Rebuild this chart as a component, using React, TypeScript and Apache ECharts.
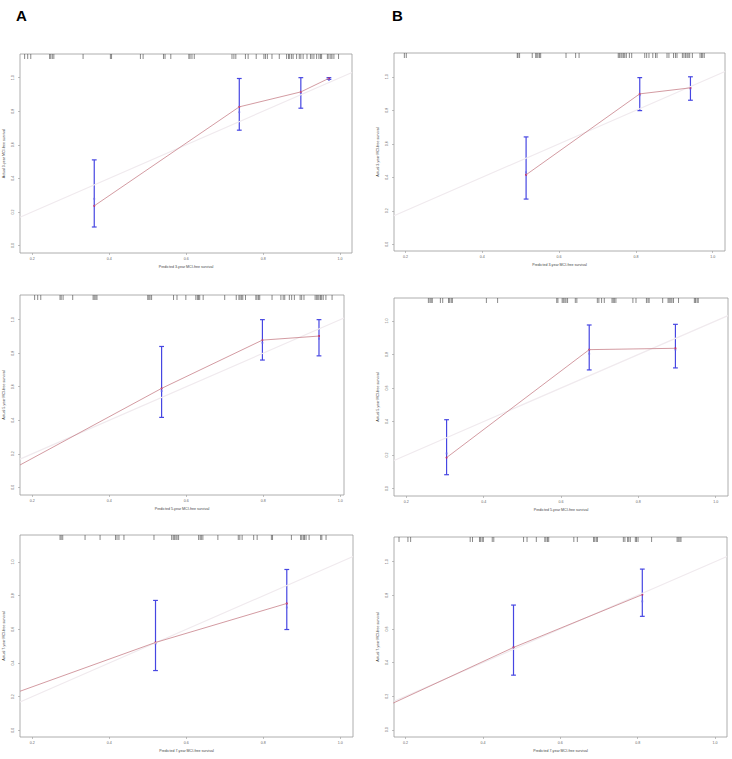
import React, { useEffect, useRef } from "react";
import * as echarts from "echarts";

// ---- tick labels ----
const xTicks = [0.2, 0.4, 0.6, 0.8, 1.0];
const yTicks = [0, 0.2, 0.4, 0.6, 0.8, 1.0];

// ---- Panel A, 3-year ----
const rugA1 = [0.180, 0.188, 0.196, 0.245, 0.248, 0.252, 0.256, 0.332, 0.403, 0.406, 0.481, 0.488, 0.541, 0.545, 0.560, 0.607, 0.610, 0.615, 0.621, 0.719, 0.724, 0.729, 0.754, 0.761, 0.782, 0.802, 0.806, 0.811, 0.823, 0.842, 0.861, 0.866, 0.869, 0.874, 0.878, 0.887, 0.894, 0.898, 0.904, 0.914, 0.923, 0.927, 0.932, 0.939, 0.945, 0.949, 0.952, 0.967, 0.971, 0.976, 0.979, 0.984, 0.996];
const predA1 = [0.361, 0.738, 0.898, 0.971];
const obsA1 = [0.236, 0.826, 0.915, 0.996];
const corrA1 = [0.278, 0.794, 0.905, 0.986];
const loA1 = [0.11, 0.687, 0.818, 0.99];
const hiA1 = [0.51, 0.995, 1.0, 1.0];

// ---- Panel B, 3-year ----
const rugB1 = [0.197, 0.202, 0.491, 0.493, 0.497, 0.530, 0.539, 0.542, 0.545, 0.549, 0.552, 0.618, 0.643, 0.652, 0.754, 0.757, 0.761, 0.764, 0.768, 0.771, 0.775, 0.783, 0.789, 0.823, 0.828, 0.834, 0.844, 0.851, 0.855, 0.881, 0.886, 0.898, 0.903, 0.907, 0.921, 0.925, 0.929, 0.933, 0.936, 0.940, 0.947, 0.967, 0.971, 0.974, 0.978];
const predB1 = [0.514, 0.810, 0.942];
const obsB1 = [0.415, 0.898, 0.934];
const corrB1 = [0.43, 0.89, 0.93];
const loB1 = [0.27, 0.798, 0.86];
const hiB1 = [0.641, 0.995, 1.0];

// ---- Panel A, 5-year ----
const rugA2 = [0.206, 0.214, 0.222, 0.272, 0.275, 0.280, 0.305, 0.358, 0.361, 0.365, 0.368, 0.500, 0.503, 0.506, 0.510, 0.567, 0.576, 0.599, 0.625, 0.629, 0.632, 0.635, 0.644, 0.700, 0.730, 0.737, 0.740, 0.744, 0.747, 0.754, 0.781, 0.784, 0.788, 0.791, 0.823, 0.846, 0.852, 0.856, 0.868, 0.874, 0.881, 0.896, 0.900, 0.906, 0.935, 0.939, 0.942, 0.945, 0.949, 0.952, 0.956, 0.963, 0.979];
const predA2 = [0.536, 0.798, 0.945];
const obsA2 = [0.59, 0.878, 0.902];
const corrA2 = [0.574, 0.862, 0.886];
const loA2 = [0.417, 0.759, 0.784];
const hiA2 = [0.84, 1.0, 1.0];
const startA2 = [0.168, 0.133];

// ---- Panel B, 5-year ----
const rugB2 = [0.257, 0.261, 0.264, 0.267, 0.288, 0.294, 0.309, 0.312, 0.316, 0.319, 0.407, 0.436, 0.589, 0.592, 0.603, 0.606, 0.610, 0.613, 0.617, 0.637, 0.641, 0.694, 0.698, 0.705, 0.712, 0.732, 0.735, 0.738, 0.742, 0.786, 0.794, 0.821, 0.825, 0.828, 0.863, 0.877, 0.880, 0.884, 0.887, 0.891, 0.904, 0.945, 0.948, 0.952, 0.955];
const predB2 = [0.304, 0.673, 0.896];
const obsB2 = [0.185, 0.829, 0.837];
const corrB2 = [0.21, 0.805, 0.829];
const loB2 = [0.083, 0.708, 0.72];
const hiB2 = [0.411, 0.976, 0.98];

// ---- Panel A, 7-year ----
const rugA3 = [0.272, 0.275, 0.279, 0.337, 0.376, 0.416, 0.420, 0.425, 0.438, 0.516, 0.562, 0.566, 0.569, 0.573, 0.576, 0.580, 0.632, 0.636, 0.639, 0.643, 0.682, 0.735, 0.739, 0.745, 0.775, 0.784, 0.821, 0.824, 0.873, 0.897, 0.900, 0.904, 0.907, 0.911, 0.919, 0.949, 0.952, 0.963];
const predA3 = [0.52, 0.861];
const obsA3 = [0.522, 0.754];
const corrA3 = [0.516, 0.73];
const loA3 = [0.355, 0.599];
const hiA3 = [0.772, 0.956];
const startA3 = [0.168, 0.232];

// ---- Panel B, 7-year ----
const rugB3 = [0.183, 0.206, 0.213, 0.367, 0.373, 0.391, 0.394, 0.398, 0.401, 0.424, 0.428, 0.505, 0.514, 0.538, 0.560, 0.563, 0.567, 0.570, 0.635, 0.644, 0.686, 0.689, 0.693, 0.696, 0.763, 0.767, 0.774, 0.777, 0.781, 0.794, 0.797, 0.801, 0.836, 0.902, 0.905, 0.909, 0.912];
const predB3 = [0.479, 0.812];
const obsB3 = [0.49, 0.804];
const corrB3 = [0.49, 0.764];
const loB3 = [0.325, 0.675];
const hiB3 = [0.742, 0.956];
const startB3 = [0.168, 0.159];

const panels = [
  { years: 3, rug: rugA1, pred: predA1, obs: obsA1, corr: corrA1, lo: loA1, hi: hiA1, start: null, box: { left: 20, top: 54, width: 332, height: 199 }, xr: [0.168, 1.031], yr: [-0.045, 1.141] },
  { years: 3, rug: rugB1, pred: predB1, obs: obsB1, corr: corrB1, lo: loB1, hi: hiB1, start: null, box: { left: 394, top: 53, width: 331, height: 198 }, xr: [0.17, 1.032], yr: [-0.04, 1.142] },
  { years: 5, rug: rugA2, pred: predA2, obs: obsA2, corr: corrA2, lo: loA2, hi: hiA2, start: startA2, box: { left: 20, top: 295, width: 324, height: 200 }, xr: [0.168, 1.01], yr: [-0.046, 1.147] },
  { years: 5, rug: rugB2, pred: predB2, obs: obsB2, corr: corrB2, lo: loB2, hi: hiB2, start: null, box: { left: 394, top: 298, width: 334, height: 198 }, xr: [0.168, 1.032], yr: [-0.044, 1.137] },
  { years: 7, rug: rugA3, pred: predA3, obs: obsA3, corr: corrA3, lo: loA3, hi: hiA3, start: startA3, box: { left: 20, top: 535, width: 333, height: 202 }, xr: [0.168, 1.033], yr: [-0.04, 1.161] },
  { years: 7, rug: rugB3, pred: predB3, obs: obsB3, corr: corrB3, lo: loB3, hi: hiB3, start: startB3, box: { left: 394, top: 537, width: 333, height: 200 }, xr: [0.17, 1.031], yr: [-0.043, 1.147] },
];

const FONT = "Liberation Sans, Arial, sans-serif";
const BAR = "#4646e2";

function buildOption() {
  const grid = panels.map((p) => ({
    left: p.box.left,
    top: p.box.top,
    width: p.box.width,
    height: p.box.height,
    show: true,
    borderColor: "#9a9a9a",
    borderWidth: 0.8,
    backgroundColor: "transparent",
  }));

  const xAxis = panels.map((p, i) => ({
    gridIndex: i,
    type: "value",
    min: p.xr[0],
    max: p.xr[1],
    name: `Predicted ${p.years}-year MCI-free survival`,
    nameLocation: "middle",
    nameGap: 12,
    nameTextStyle: { fontSize: 3.6, color: "#444", fontFamily: FONT },
    axisLine: { show: false, onZero: false },
    splitLine: { show: false },
    axisTick: { show: true, customValues: xTicks, length: 2, lineStyle: { color: "#999", width: 0.6 } },
    axisLabel: { customValues: xTicks, formatter: (v: number) => v.toFixed(1), fontSize: 3.6, color: "#666", margin: 4, fontFamily: FONT },
  }));

  const yAxis = panels.map((p, i) => ({
    gridIndex: i,
    type: "value",
    min: p.yr[0],
    max: p.yr[1],
    name: `Actual ${p.years}-year MCI-free survival`,
    nameLocation: "middle",
    nameGap: 14,
    nameRotate: 90,
    nameTextStyle: { fontSize: 3.6, color: "#444", fontFamily: FONT },
    axisLine: { show: false, onZero: false },
    splitLine: { show: false },
    axisTick: { show: true, customValues: yTicks, length: 2, lineStyle: { color: "#999", width: 0.6 } },
    axisLabel: { customValues: yTicks, rotate: 90, formatter: (v: number) => v.toFixed(1), fontSize: 3.6, color: "#666", margin: 5, fontFamily: FONT },
  }));

  const series: any[] = [];
  panels.forEach((p, i) => {
    const ax = { xAxisIndex: i, yAxisIndex: i };
    // ideal reference line (y = x)
    series.push({
      type: "line",
      ...ax,
      data: [[p.xr[0], p.xr[0]], [p.xr[1], p.xr[1]]],
      symbol: "none",
      silent: true,
      lineStyle: { color: "#f0eaee", width: 1.2 },
    });
    // calibration line
    const lineData = (p.start ? [p.start] : []).concat(p.pred.map((x, k) => [x, p.obs[k]]));
    series.push({
      type: "line",
      ...ax,
      data: lineData,
      symbol: "none",
      silent: true,
      lineStyle: { color: "#c8828a", width: 0.8 },
    });
    // error bars
    series.push({
      type: "custom",
      ...ax,
      silent: true,
      data: p.pred.map((x, k) => [x, p.lo[k], p.hi[k]]),
      encode: { x: 0, y: [1, 2] },
      renderItem: (params: any, api: any) => {
        const x = api.value(0);
        const a = api.coord([x, api.value(1)]);
        const b = api.coord([x, api.value(2)]);
        const cap = 2.4;
        const st = { stroke: BAR, lineWidth: 1.2 };
        return {
          type: "group",
          children: [
            { type: "line", shape: { x1: a[0], y1: a[1], x2: b[0], y2: b[1] }, style: st },
            { type: "line", shape: { x1: a[0] - cap, y1: a[1], x2: a[0] + cap, y2: a[1] }, style: st },
            { type: "line", shape: { x1: b[0] - cap, y1: b[1], x2: b[0] + cap, y2: b[1] }, style: st },
          ],
        };
      },
    });
    // bias-corrected marks
    series.push({
      type: "scatter",
      ...ax,
      silent: true,
      data: p.pred.map((x, k) => [x, p.corr[k]]),
      symbol: "rect",
      symbolSize: 1.8,
      itemStyle: { color: "#6a6ae8" },
    });
    // observed points
    series.push({
      type: "scatter",
      ...ax,
      silent: true,
      data: p.pred.map((x, k) => [x, p.obs[k]]),
      symbol: "circle",
      symbolSize: 2.2,
      itemStyle: { color: "#c0145a" },
    });
    // rug of predicted values
    series.push({
      type: "custom",
      ...ax,
      silent: true,
      data: p.rug.map((v) => [v, p.yr[1]]),
      encode: { x: 0, y: 1 },
      renderItem: (params: any, api: any) => {
        const t = api.coord([api.value(0), api.value(1)]);
        return {
          type: "line",
          shape: { x1: t[0], y1: t[1], x2: t[0], y2: t[1] + 5 },
          style: { stroke: "#3a3a3a", lineWidth: 0.6 },
        };
      },
    });
  });

  return {
    animation: false,
    backgroundColor: "#ffffff",
    grid,
    xAxis,
    yAxis,
    series,
    graphic: [
      { type: "text", left: 16, top: 8, style: { text: "A", fontSize: 15, fontWeight: "bold", fill: "#000", fontFamily: FONT } },
      { type: "text", left: 392, top: 8, style: { text: "B", fontSize: 15, fontWeight: "bold", fill: "#000", fontFamily: FONT } },
    ],
  };
}

export default function App() {
  const ref = useRef<HTMLDivElement>(null);
  useEffect(() => {
    if (!ref.current) return;
    const chart = echarts.init(ref.current, undefined, { renderer: "svg" });
    chart.setOption(buildOption() as any);
    return () => chart.dispose();
  }, []);
  return (
    <div
      ref={ref}
      style={{ position: "fixed", left: 0, top: 0, width: 732, height: 759, background: "#fff" }}
    />
  );
}
